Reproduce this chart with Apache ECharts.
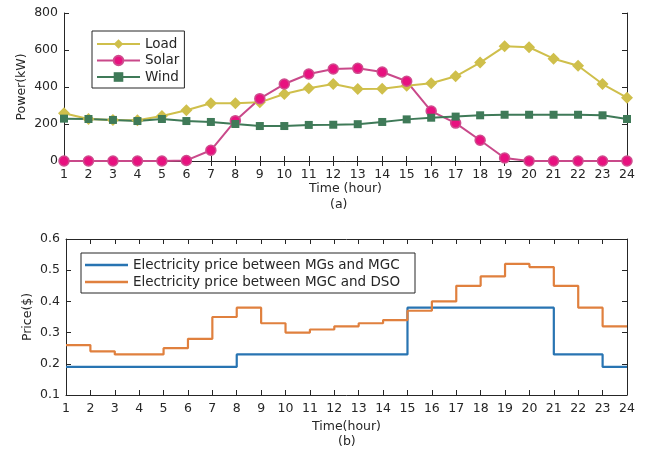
<!DOCTYPE html>
<html><head><meta charset="utf-8">
<script src="https://cdn.jsdelivr.net/npm/echarts@6/dist/echarts.min.js"></script>
<style>html,body{margin:0;padding:0;background:#fff}#c{width:647px;height:452px}</style>
</head><body><div id="c"></div>
<script>
var hours = [1,2,3,4,5,6,7,8,9,10,11,12,13,14,15,16,17,18,19,20,21,22,23,24];
var loadKW  = [258,227,222,220,243,274,312,312,317,362,393,416,389,391,407,420,458,532,620,615,553,515,416,342];
var solarKW = [0,0,0,0,0,3,58,218,337,416,470,497,501,481,431,270,205,112,16,0,0,0,0,0];
var windKW  = [229,227,222,216,227,216,211,200,189,189,195,196,199,211,225,234,240,247,250,250,250,250,247,227];
var priceMG  = [0.19,0.19,0.19,0.19,0.19,0.19,0.19,0.23,0.23,0.23,0.23,0.23,0.23,0.23,0.38,0.38,0.38,0.38,0.38,0.38,0.23,0.23,0.19,0.19];
var priceDSO = [0.26,0.24,0.23,0.23,0.25,0.28,0.35,0.38,0.33,0.30,0.31,0.32,0.33,0.34,0.37,0.40,0.45,0.48,0.52,0.51,0.45,0.38,0.32,0.32];
var powerTicks = [0,200,400,600,800];
var priceTicks = [0.1,0.2,0.3,0.4,0.5,0.6];

function pairs(v){ return hours.map(function(h,i){ return [h, v[i]]; }); }

var FONT = 'DejaVu Sans';
var TXT = '#262626';
var axLine = {show:true, lineStyle:{color:TXT, width:1}};
var axTick = {show:true, inside:true, length:5, lineStyle:{color:TXT}};
function xAx(grid, pos, labels, name, gap){
  return {type:'value', gridIndex:grid, position:pos, min:1, max:24, interval:1,
    axisLine:axLine, axisTick:axTick, splitLine:{show:false},
    axisLabel:{show:labels, margin:7, color:TXT, fontFamily:FONT, fontSize:12.5},
    name:name, nameLocation:'middle', nameGap:gap, nameMoveOverlap:false,
    nameTextStyle:{color:TXT, fontFamily:FONT, fontSize:12.5}};
}
function yAx(grid, pos, labels, mn, mx, iv, name, gap){
  return {type:'value', gridIndex:grid, position:pos, min:mn, max:mx, interval:iv,
    axisLine:axLine, axisTick:axTick, splitLine:{show:false},
    axisLabel:{show:labels, margin:6, color:TXT, fontFamily:FONT, fontSize:12.5},
    name:name, nameLocation:'middle', nameGap:gap, nameMoveOverlap:false,
    nameTextStyle:{color:TXT, fontFamily:FONT, fontSize:12.5}};
}

var chart = echarts.init(document.getElementById('c'), null, {renderer:'canvas'});
chart.setOption({
  animation:false,
  backgroundColor:'#fff',
  grid:[{left:64, top:13, width:563, height:148},
        {left:66, top:239, width:561, height:156}],
  xAxis:[xAx(0,'bottom',true,'Time (hour)',21), xAx(0,'top',false,'',0),
         xAx(1,'bottom',true,'Time(hour)',25), xAx(1,'top',false,'',0)],
  yAxis:[yAx(0,'left',true,powerTicks[0],powerTicks[4],200,'Power(kW)',36), yAx(0,'right',false,0,800,200,'',0),
         yAx(1,'left',true,priceTicks[0],priceTicks[5],0.1,'Price($)',32), yAx(1,'right',false,0.1,0.6,0.1,'',0)],
  legend:[
    {data:['Load','Solar','Wind'], orient:'vertical', left:92, top:31,
     padding:[6,5,4,4], itemWidth:43, itemHeight:12, itemGap:2.5,
     borderColor:'#262626', borderWidth:1, backgroundColor:'#fff',
     textStyle:{color:TXT, fontFamily:FONT, fontSize:13.5, lineHeight:12}},
    {data:[{name:'Electricity price between MGs and MGC', icon:'rect'},
           {name:'Electricity price between MGC and DSO', icon:'rect'}],
     orient:'vertical', left:81, top:253, padding:[5,15,4,4], itemWidth:43, itemHeight:2.5, itemGap:3,
     borderColor:'#262626', borderWidth:1, backgroundColor:'#fff',
     textStyle:{color:TXT, fontFamily:FONT, fontSize:13.5, lineHeight:12}}
  ],
  graphic:[
    {type:'text', style:{text:'(a)', fill:TXT, font:'12.5px "DejaVu Sans"'}, top:198, left:330},
    {type:'text', style:{text:'(b)', fill:TXT, font:'12.5px "DejaVu Sans"'}, top:435, left:338}
  ],
  series:[
    {name:'Load', type:'line', xAxisIndex:0, yAxisIndex:0, data:pairs(loadKW),
     symbol:'diamond', symbolSize:12, lineStyle:{color:'#CFBF4B', width:2},
     itemStyle:{color:'#CFBF4B'}},
    {name:'Solar', type:'line', xAxisIndex:0, yAxisIndex:0, data:pairs(solarKW),
     symbol:'circle', symbolSize:10, lineStyle:{color:'#C9498A', width:2},
     itemStyle:{color:'#E8117F', borderColor:'#CF4C8E', borderWidth:1.5}},
    {name:'Wind', type:'line', xAxisIndex:0, yAxisIndex:0, data:pairs(windKW),
     symbol:'rect', symbolSize:8, lineStyle:{color:'#3F7A58', width:2},
     itemStyle:{color:'#3F7A58'}},
    {name:'Electricity price between MGs and MGC', type:'line', xAxisIndex:2, yAxisIndex:2,
     data:pairs(priceMG), step:'end', symbol:'none', lineStyle:{color:'#2874B2', width:2.2},
     itemStyle:{color:'#2874B2'}},
    {name:'Electricity price between MGC and DSO', type:'line', xAxisIndex:2, yAxisIndex:2,
     data:pairs(priceDSO), step:'end', symbol:'none', lineStyle:{color:'#E0803E', width:2.2},
     itemStyle:{color:'#E0803E'}}
  ]
});
</script></body></html>
